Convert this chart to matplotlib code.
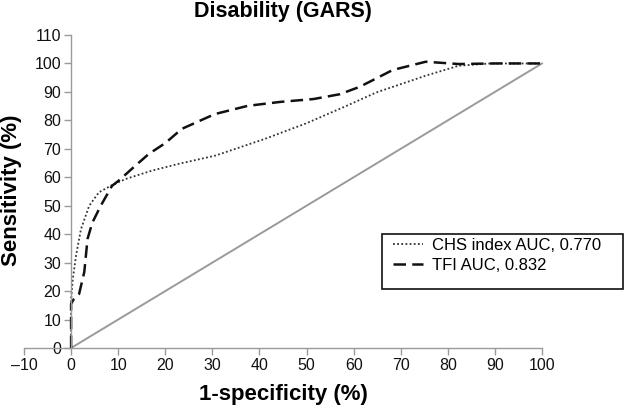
import matplotlib
matplotlib.use('Agg')
import matplotlib.pyplot as plt
from matplotlib.patches import Rectangle

plt.rcParams['font.family'] = ['Liberation Sans', 'DejaVu Sans']

tfi_x = [0, 0, 0.5, 1.7, 2.8, 3.5, 4.5, 6.3, 8.7, 10.1, 13.6, 16.5, 20, 23.5,
         30.5, 37.5, 44.5, 51.5, 57.1, 61.3, 68.3, 75.3, 82.3, 90, 100]
tfi_y = [0, 15.5, 17, 19, 26.7, 38.4, 44, 50, 57, 58.8, 64, 68.2, 72, 77,
         82.2, 85.1, 86.5, 87.5, 89.2, 91.8, 97.7, 100.6, 99.8, 100, 100]
chs_x = [0, 0, 0.35, 1.05, 2.1, 3.85, 5.9, 8.4, 11.6, 17.1, 22.8, 30.6, 41,
         50, 58.5, 64.8, 75.3, 82.3, 89, 100]
chs_y = [0, 17, 24, 32.5, 41.8, 50, 54.7, 57, 59.4, 62.3, 64.7, 67.6, 73.4,
         79, 85.1, 89.8, 95.7, 99.2, 100, 100]
ref_x = [0, 100]
ref_y = [0, 100]
labels = ['CHS index AUC, 0.770', 'TFI AUC, 0.832']

fig = plt.figure(figsize=(6.25, 4.07), dpi=100)
ax = fig.add_axes([0.0384, 0.145, 0.8288, 0.769])

ax.plot(ref_x, ref_y, color='#9a9a9a', lw=1.4, clip_on=False)
ax.plot(chs_x, chs_y, color='#333333', lw=1.3, linestyle=(0, (1, 1.3)),
        label=labels[0], clip_on=False)
ax.plot(tfi_x, tfi_y, color='#111111', lw=1.8, linestyle=(0, (5, 2.5)),
        label=labels[1], clip_on=False)

ax.set_xlim(-10, 100)
ax.set_ylim(0, 110)
ax.set_xticks(range(-10, 101, 10))
ax.set_xticklabels(['\u201310'] + [str(v) for v in range(0, 101, 10)])
ax.set_yticks(range(0, 111, 10))

for s in ['top', 'right']:
    ax.spines[s].set_visible(False)
ax.spines['left'].set_position(('data', 0))
ax.spines['bottom'].set_position(('data', 0))
for s in ['left', 'bottom']:
    ax.spines[s].set_color('#9a9a9a')
    ax.spines[s].set_linewidth(1.0)
ax.tick_params(direction='out', length=5, width=1, color='#9a9a9a',
               labelsize=11.5, labelcolor='#111111', pad=2)

ax.set_title('Disability (GARS)', fontsize=15.5, fontweight='bold', y=1.058, pad=0)
ax.set_xlabel('1-specificity (%)', fontsize=16, fontweight='bold', va='top')
ax.set_ylabel('Sensitivity (%)', fontsize=16, fontweight='bold')
ax.xaxis.set_label_coords(0.5, -0.115)
ax.yaxis.set_label_coords(-0.004, 0.505)

# legend box drawn separately (more room below the entries, as in the original)
ax.add_patch(Rectangle((0.6905, 0.1885), 0.4658, 0.1755, transform=ax.transAxes,
                       fill=False, edgecolor='#111111', lw=1.2, clip_on=False))
leg = ax.legend(loc='upper left', bbox_to_anchor=(0.712, 0.352), frameon=False,
                fontsize=12, handlelength=1.8, handletextpad=0.55,
                borderaxespad=0, borderpad=0, labelspacing=0.3)

fig.savefig('out.png', dpi=100)
